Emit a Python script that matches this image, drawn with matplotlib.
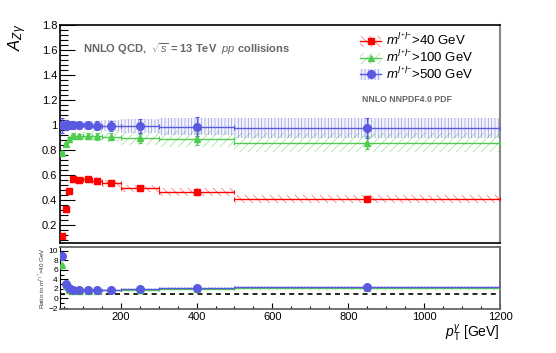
import numpy as np
import matplotlib
matplotlib.use("Agg")
import matplotlib.pyplot as plt
from matplotlib.patches import Patch
from matplotlib.lines import Line2D
from matplotlib.legend_handler import HandlerTuple
from matplotlib.ticker import MultipleLocator

plt.rcParams['font.family'] = ['Liberation Sans', 'DejaVu Sans']
plt.rcParams['mathtext.fontset'] = 'custom'
plt.rcParams['mathtext.rm'] = 'Liberation Sans'
plt.rcParams['mathtext.it'] = 'Liberation Sans:italic'
plt.rcParams['mathtext.bf'] = 'Liberation Sans:bold'
plt.rcParams['hatch.linewidth'] = 0.5

# ---- data ----
bin_edges = [40, 50, 60, 70, 80, 100, 125, 150, 200, 300, 500, 1200]
red_vals = [0.112, 0.325, 0.472, 0.565, 0.560, 0.565, 0.552, 0.533, 0.493, 0.464, 0.410]
red_err = [0.005, 0.01, 0.015, 0.02, 0.02, 0.02, 0.022, 0.022, 0.02, 0.025, 0.02]
red_band = [0.005, 0.01, 0.015, 0.02, 0.02, 0.022, 0.025, 0.028, 0.03, 0.032, 0.034]
green_vals = [0.773, 0.845, 0.885, 0.915, 0.912, 0.912, 0.909, 0.907, 0.893, 0.888, 0.860]
green_err = [0.02, 0.015, 0.02, 0.02, 0.02, 0.025, 0.025, 0.03, 0.035, 0.045, 0.05]
green_band = [0.02, 0.025, 0.03, 0.03, 0.032, 0.035, 0.04, 0.045, 0.055, 0.065, 0.078]
blue_vals = [1.0, 1.0, 1.0, 1.0, 0.998, 0.997, 0.995, 0.995, 0.99, 0.987, 0.973]
blue_err = [0.06, 0.04, 0.035, 0.03, 0.03, 0.03, 0.035, 0.04, 0.055, 0.075, 0.08]
blue_band = [0.03, 0.03, 0.03, 0.03, 0.035, 0.035, 0.04, 0.045, 0.055, 0.07, 0.08]
labels = [r"$m^{l^{+}l^{-}}$>40 GeV", r"$m^{l^{+}l^{-}}$>100 GeV", r"$m^{l^{+}l^{-}}$>500 GeV"]

RED = '#ff0000'
GREEN = '#4fcc4f'
BLUE = '#5a5ae0'

edges = np.array(bin_edges, float)
cent = 0.5 * (edges[1:] + edges[:-1])
half = 0.5 * (edges[1:] - edges[:-1])
rv, re_, rb = map(np.array, (red_vals, red_err, red_band))
gv, ge, gb = map(np.array, (green_vals, green_err, green_band))
bv, be, bb = map(np.array, (blue_vals, blue_err, blue_band))

W, H = 556, 353
fig = plt.figure(figsize=(W / 100, H / 100), dpi=100)
ax = fig.add_axes([60 / W, 1 - 243.3 / H, 440 / W, 218.3 / H])
axr = fig.add_axes([60 / W, 1 - 309 / H, 440 / W, 61.7 / H])


def band(a, lo, hi, color, hatch, fill=None):
    lo2 = np.append(lo, lo[-1]); hi2 = np.append(hi, hi[-1])
    if fill is not None:
        a.fill_between(edges, lo2, hi2, step='post', facecolor=fill, edgecolor='none', lw=0, zorder=1)
    a.fill_between(edges, lo2, hi2, step='post', facecolor='none', edgecolor=color,
                   hatch=hatch, lw=0, zorder=1.5, alpha=0.6)


band(ax, rv - rb, rv + rb, RED, '\\\\\\\\')
band(ax, gv - gb, gv + gb, GREEN, '////')
band(ax, bv - bb, bv + bb, BLUE, '|||||', fill=(0.92, 0.92, 0.98, 0.6))

for v, e, c, m, ms in [(rv, re_, RED, 's', 5), (gv, ge, GREEN, '^', 5), (bv, be, BLUE, 'o', 5.5)]:
    ax.errorbar(cent, v, xerr=half, yerr=e, fmt=m, color=c, ms=ms, lw=1, capsize=1.5,
                capthick=0.8, zorder=3)

ax.set_xlim(40, 1200)
ax.set_ylim(0.054, 1.8)
ax.yaxis.set_major_locator(MultipleLocator(0.2))
ax.yaxis.set_minor_locator(MultipleLocator(0.04))
ax.set_xticks([])
ax.tick_params(axis='y', which='major', direction='in', length=11, width=0.8, labelsize=8, pad=2)
ax.tick_params(axis='y', which='minor', direction='in', length=5.5, width=0.8)
ax.yaxis.set_major_formatter(matplotlib.ticker.FuncFormatter(lambda v, p: f"{v:g}"))
for s in ['top', 'bottom', 'left']:
    ax.spines[s].set_color('black'); ax.spines[s].set_linewidth(1.2)
ax.spines['right'].set_color('#888888'); ax.spines['right'].set_linewidth(1.5)

# legend
hr = (Patch(facecolor='none', edgecolor=RED, hatch='\\\\\\\\', lw=0, alpha=0.6),
      Line2D([], [], color=RED, marker='s', ms=5, lw=1))
hg = (Patch(facecolor='none', edgecolor=GREEN, hatch='////', lw=0, alpha=0.6),
      Line2D([], [], color=GREEN, marker='^', ms=5, lw=1))
hb = (Patch(facecolor=(0.9, 0.9, 0.98), edgecolor=BLUE, hatch='|||||', lw=0, alpha=0.6),
      Line2D([], [], color=BLUE, marker='o', ms=5.5, lw=1))
ax.legend([hr, hg, hb], labels, handler_map={tuple: HandlerTuple(ndivide=1, pad=0)},
          loc='upper left', bbox_to_anchor=(360 / W, 1 - 33 / H), bbox_transform=fig.transFigure,
          frameon=False, fontsize=9.5, handlelength=1.6, handleheight=0.9, handletextpad=0.4,
          labelspacing=0.05, borderaxespad=0, borderpad=0)

fig.text(83 / W, 1 - 49 / H, r"NNLO QCD,  $\sqrt{s}$ = 13 TeV  $\it{pp}$ collisions",
         color='#666666', fontsize=8, fontweight='bold', va='center', ha='left')
fig.text(362 / W, 1 - 100 / H, "NNLO NNPDF4.0 PDF", color='#666666', fontsize=6.3,
         fontweight='bold', va='center', ha='left')
fig.text(18 / W, 1 - 24 / H, r"$A_{Z\gamma}$", rotation=90, fontsize=12, ha='center', va='top')

# ratio panel
for v, e, b, c, m, ms, h in [(gv, ge, gb, GREEN, '^', 5, '////'), (bv, be, bb, BLUE, 'o', 5.5, '|||||')]:
    r = v / rv
    rerr = r * np.sqrt((e / v) ** 2 + (re_ / rv) ** 2)
    rband = r * np.sqrt((b / v) ** 2 + (rb / rv) ** 2)
    band(axr, r - rband, r + rband, c, h)
    axr.errorbar(cent, r, xerr=half, yerr=rerr, fmt=m, color=c, ms=ms, lw=1, capsize=1,
                 capthick=0.8, zorder=3)
axr.axhline(1.0, color='black', ls=(0, (3, 2.5)), lw=1.2, zorder=2)
axr.set_xlim(40, 1200)
axr.set_ylim(-2.2, 10.7)
axr.yaxis.set_major_locator(MultipleLocator(2))
axr.yaxis.set_minor_locator(MultipleLocator(1))
axr.xaxis.set_major_locator(MultipleLocator(200))
axr.xaxis.set_minor_locator(MultipleLocator(50))
axr.tick_params(axis='y', which='major', direction='in', length=6, width=0.8, labelsize=6, pad=1.5)
axr.tick_params(axis='y', which='minor', direction='in', length=3, width=0.8)
axr.tick_params(axis='x', which='major', direction='in', length=4, width=0.8, labelsize=8, pad=2)
axr.tick_params(axis='x', which='minor', direction='in', length=2, width=0.8)
axr.yaxis.set_major_formatter(matplotlib.ticker.FuncFormatter(lambda v, p: f"{v:g}".replace('-', '\u2212')))
for s in ['top', 'bottom', 'right']:
    axr.spines[s].set_color('#666666'); axr.spines[s].set_linewidth(1.3)
axr.spines['left'].set_color('black')

fig.text(42 / W, 1 - 278 / H, r"Ratio to $m^{l^{+}l^{-}}$>40 GeV", rotation=90, fontsize=4.5,
         ha='center', va='center', color='#333333')
fig.text(500 / W, 1 - 333 / H, r"$p_{\rm T}^{\gamma}$ [GeV]", fontsize=10, ha='right', va='center')

fig.savefig('out.png', dpi=100)
